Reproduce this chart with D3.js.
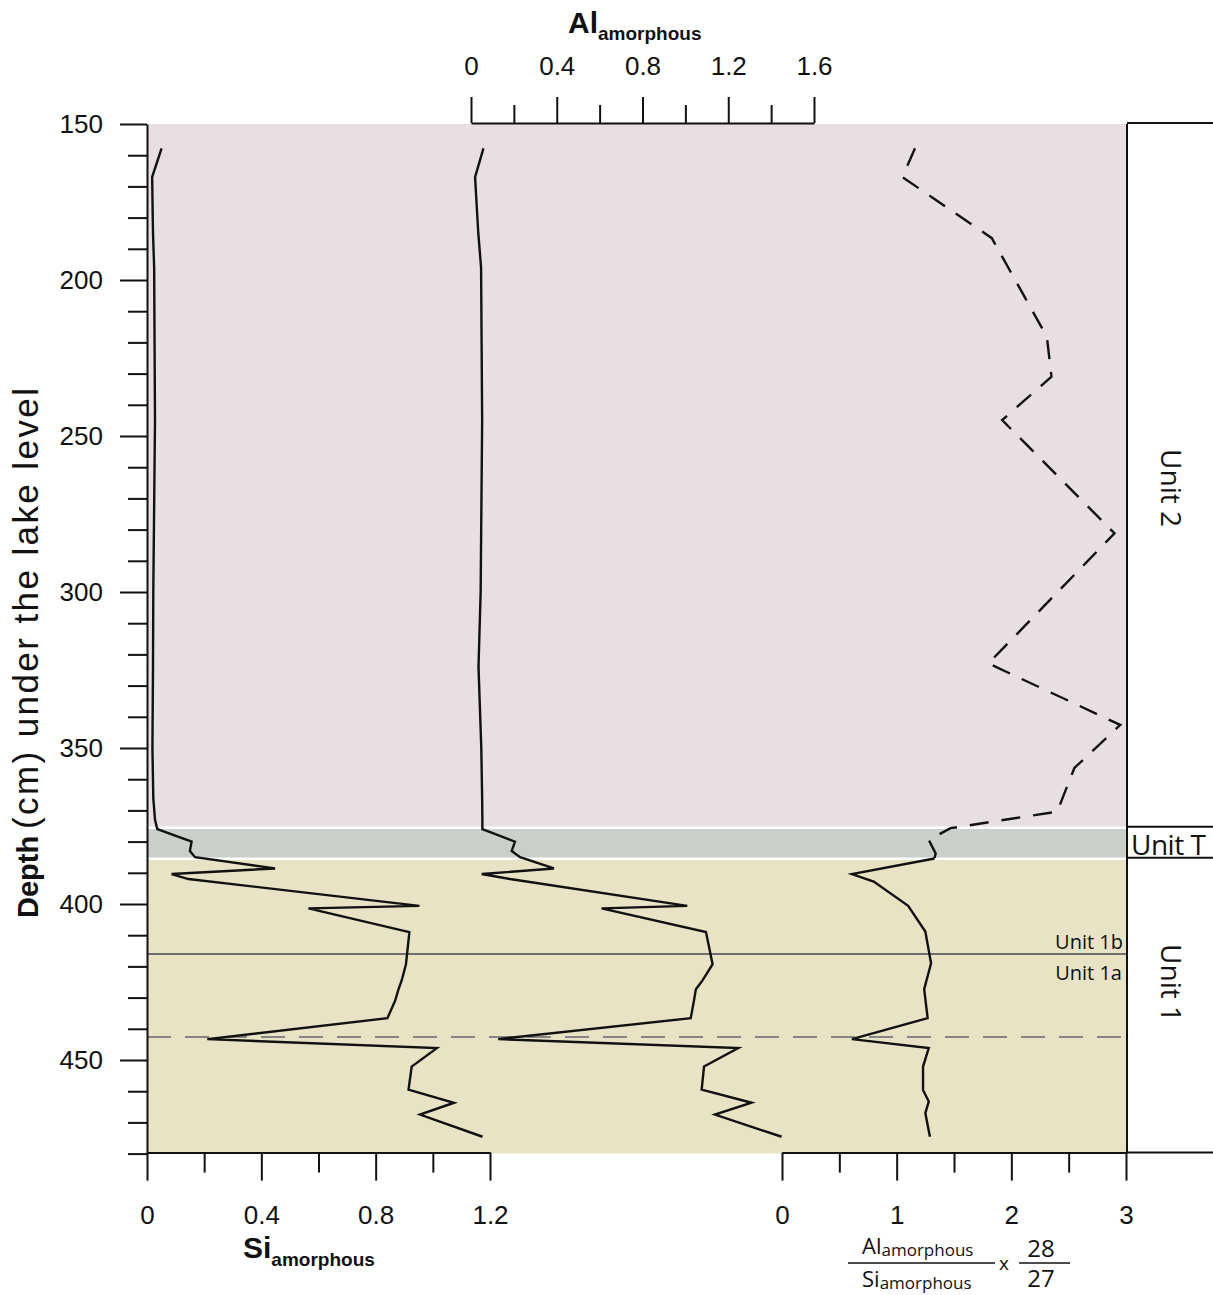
<!DOCTYPE html>
<html><head><meta charset="utf-8">
<script src="https://cdn.jsdelivr.net/npm/d3@7"></script>
<style>body{margin:0;background:#fff} svg{display:block}</style>
</head><body><svg id="c" width="1213" height="1295"></svg>
<script>
// ---- data ----
const depths    = [157.8, 167, 185, 196, 245, 300, 324, 350, 366, 373, 376, 380, 383, 385, 388.6, 390.4, 392, 400.6, 401.4, 409, 419.3, 424.5, 427.3, 431, 436.6, 443.3, 446.2, 452.1, 459.5, 463.7, 467.5, 474.6];
const siValues  = [0.051, 0.018, 0.021, 0.025, 0.028, 0.022, 0.021, 0.019, 0.022, 0.028, 0.036, 0.156, 0.150, 0.168, 0.448, 0.086, 0.145, 0.953, 0.565, 0.918, 0.906, 0.891, 0.880, 0.868, 0.841, 0.211, 1.014, 0.926, 0.915, 1.074, 0.955, 1.174];
const alValues  = [0.058, 0.019, 0.034, 0.047, 0.052, 0.045, 0.035, 0.048, 0.052, 0.053, 0.053, 0.205, 0.190, 0.229, 0.387, 0.050, 0.182, 1.009, 0.609, 1.096, 1.127, 1.080, 1.049, 1.040, 1.025, 0.127, 1.247, 1.087, 1.076, 1.309, 1.138, 1.449];
const ratioDepths = [157.8, 167, 186.6, 218.2, 231, 244.9, 281.2, 322.9, 342.6, 356.4, 370.4, 375.7, 379.5, 383.8, 385.4, 390.4, 392.8, 400.6, 408.8, 419, 427.3, 436.6, 443.3, 446.2, 452.1, 459.6, 463.3, 467, 474.6];
const ratioValues = [1.16, 1.05, 1.83, 2.31, 2.35, 1.92, 2.90, 1.80, 2.95, 2.55, 2.40, 1.47, 1.28, 1.34, 1.33, 0.61, 0.80, 1.10, 1.25, 1.30, 1.24, 1.27, 0.61, 1.28, 1.23, 1.23, 1.28, 1.25, 1.29];
const ratioDashedUntil = 385.4;

const depthTicks = [150,160,170,180,190,200,210,220,230,240,250,260,270,280,290,300,310,320,330,340,350,360,370,380,390,400,410,420,430,440,450,460,470,480];
const depthLabels = [150,200,250,300,350,400,450];
const siTicks = [0,0.2,0.4,0.6,0.8,1.0,1.2];
const siLabels = [0,0.4,0.8,1.2];
const alTicks = [0,0.2,0.4,0.6,0.8,1.0,1.2,1.4,1.6];
const alLabels = [0,0.4,0.8,1.2,1.6];
const ratioTicks = [0,0.5,1,1.5,2,2.5,3];
const ratioLabels = [0,1,2,3];

const unitNames   = ["Unit 2", "Unit T", "Unit 1"];
const unitTops    = [150, 375.6, 385.5];
const unitBottoms = [375.6, 385.5, 480];
const subunitNames = ["Unit 1b", "Unit 1a"];
const subunitBoundary = 416;
const dashedBoundary = 442.6;

// ---- drawing ----
const svg = d3.select("#c");
const y = d3.scaleLinear().domain([150,480]).range([124, 1153.6]);
const xSi = d3.scaleLinear().domain([0,1.2]).range([147,490]);
const xAl = d3.scaleLinear().domain([0,1.6]).range([471,814]);
const xR  = d3.scaleLinear().domain([0,3]).range([782,1126]);
const plotL = 147, plotR = 1127;

const bandColors = ["#e7dfe0", "#cacfca", "#e8e3c5"];
svg.append("g").selectAll("rect").data(unitNames).join("rect")
  .attr("x", plotL).attr("width", plotR - plotL)
  .attr("y", (d,i) => y(unitTops[i]))
  .attr("height", (d,i) => y(unitBottoms[i]) - y(unitTops[i]))
  .attr("fill", (d,i) => bandColors[i]);
svg.append("g").selectAll("line").data(unitTops.slice(1)).join("line")
  .attr("x1", plotL).attr("x2", plotR)
  .attr("y1", d => y(d)).attr("y2", d => y(d))
  .attr("stroke", "#fff").attr("stroke-width", 2.5);

svg.append("line").attr("x1", plotL).attr("x2", plotR)
  .attr("y1", y(subunitBoundary)).attr("y2", y(subunitBoundary))
  .attr("stroke", "#6e6e6e").attr("stroke-width", 2);
svg.append("line").attr("x1", plotL).attr("x2", 1121)
  .attr("y1", y(dashedBoundary)).attr("y2", y(dashedBoundary))
  .attr("stroke", "#858585").attr("stroke-width", 2).attr("stroke-dasharray", "24,14");

// curves
const siLine = d3.line().x(i => xSi(siValues[i])).y(i => y(depths[i]));
const alLine = d3.line().x(i => xAl(alValues[i])).y(i => y(depths[i]));
const idx = depths.map((d,i) => i);
svg.append("path").attr("d", siLine(idx)).attr("fill","none").attr("stroke","#111").attr("stroke-width",2.4);
svg.append("path").attr("d", alLine(idx)).attr("fill","none").attr("stroke","#111").attr("stroke-width",2.4);
const rLine = d3.line().x(i => xR(ratioValues[i])).y(i => y(ratioDepths[i]));
const rIdx = ratioDepths.map((d,i) => i);
svg.append("path").attr("d", rLine(rIdx.filter(i => ratioDepths[i] <= ratioDashedUntil)))
  .attr("fill","none").attr("stroke","#111").attr("stroke-width",2.4).attr("stroke-dasharray","19,13");
svg.append("path").attr("d", rLine(rIdx.filter(i => ratioDepths[i] >= ratioDashedUntil)))
  .attr("fill","none").attr("stroke","#111").attr("stroke-width",2.4);

// axes
const isIn = (arr, d) => arr.some(v => Math.abs(v - d) < 1e-9);
const fmt = d => d === 0 ? "0" : (Number.isInteger(d) ? String(d) : d.toFixed(1));
function style(g, fontSize) {
  g.select(".domain").attr("stroke","#111").attr("stroke-width",2);
  g.selectAll(".tick line").attr("stroke","#111").attr("stroke-width",2);
  g.selectAll(".tick text").attr("fill","#111").style("font-family","'Liberation Sans', Arial, sans-serif").style("font-size", fontSize + "px");
}
const gL = svg.append("g").attr("transform", `translate(${plotL},0)`)
  .call(d3.axisLeft(y).tickValues(depthTicks).tickSize(27).tickSizeOuter(0).tickPadding(17)
    .tickFormat(d => isIn(depthLabels, d) ? String(d) : ""));
gL.selectAll(".tick").filter(d => !isIn(depthLabels, d)).select("line").attr("x2", -19);
style(gL, 26);

const gT = svg.append("g").attr("transform", `translate(0,${y(150) - 1})`)
  .call(d3.axisTop(xAl).tickValues(alTicks).tickSize(26).tickSizeOuter(0).tickPadding(22)
    .tickFormat(d => isIn(alLabels, d) ? fmt(d) : ""));
gT.selectAll(".tick").filter(d => !isIn(alLabels, d)).select("line").attr("y2", -18);
style(gT, 26);

const gB = svg.append("g").attr("transform", `translate(0,${y(480) - 1})`)
  .call(d3.axisBottom(xSi).tickValues(siTicks).tickSize(28).tickSizeOuter(0).tickPadding(25)
    .tickFormat(d => isIn(siLabels, d) ? fmt(d) : ""));
gB.selectAll(".tick").filter(d => !isIn(siLabels, d)).select("line").attr("y2", 20);
style(gB, 26);

const gR = svg.append("g").attr("transform", `translate(0,${y(480) - 1})`)
  .call(d3.axisBottom(xR).tickValues(ratioTicks).tickSize(28).tickSizeOuter(0).tickPadding(25)
    .tickFormat(d => isIn(ratioLabels, d) ? fmt(d) : ""));
gR.selectAll(".tick").filter(d => !isIn(ratioLabels, d)).select("line").attr("y2", 20);
style(gR, 26);

// right frame and unit box
svg.append("line").attr("x1", plotR).attr("x2", plotR).attr("y1", y(150)).attr("y2", y(480))
  .attr("stroke","#111").attr("stroke-width",2);
const boxLines = [150, 375.6, 385.5, 480];
svg.append("g").selectAll("line").data(boxLines).join("line")
  .attr("x1", plotR).attr("x2", 1213)
  .attr("y1", d => y(d) - 1).attr("y2", d => y(d) - 1)
  .attr("stroke","#111").attr("stroke-width",2);

const uFont = "'Open Sans', 'Noto Sans', sans-serif";
const rotCenters = [{i:0, c:488}, {i:2, c:983}];
rotCenters.forEach(o => {
  svg.append("text").attr("transform", `translate(1161,${o.c}) rotate(90)`)
    .attr("text-anchor","middle").style("font-family", uFont).style("font-size","28px").attr("fill","#111")
    .text(unitNames[o.i]);
});
svg.append("text").attr("x", 1131).attr("y", y(385.5) - 4)
  .style("font-family", uFont).style("font-size","28px").attr("fill","#111").attr("letter-spacing","-0.5")
  .text(unitNames[1]);
svg.append("text").attr("x", 1123).attr("y", y(subunitBoundary) - 5).attr("text-anchor","end")
  .style("font-family", uFont).style("font-size","20px").attr("fill","#111").text(subunitNames[0]);
svg.append("text").attr("x", 1122).attr("y", y(subunitBoundary) + 26).attr("text-anchor","end")
  .style("font-family", uFont).style("font-size","20px").attr("fill","#111").text(subunitNames[1]);

// titles
const aFont = "'Liberation Sans', Arial, sans-serif";
const tAl = svg.append("text").attr("x", 568).attr("y", 33).style("font-family", aFont).style("font-weight","bold").attr("fill","#111");
tAl.append("tspan").style("font-size","30px").text("Al");
tAl.append("tspan").style("font-size","19px").attr("dy", 7).text("amorphous");

const tSi = svg.append("text").attr("x", 243).attr("y", 1258).style("font-family", aFont).style("font-weight","bold").attr("fill","#111");
tSi.append("tspan").style("font-size","30px").text("Si");
tSi.append("tspan").style("font-size","19px").attr("dy", 8).text("amorphous");

svg.append("text").attr("transform","translate(38,918) rotate(-90)")
  .style("font-family", aFont).style("font-weight","bold").style("font-size","29px").attr("fill","#111")
  .text("Depth");
svg.append("text").attr("transform","translate(38,829) rotate(-90)")
  .style("font-family", aFont).style("font-size","35px").attr("fill","#111")
  .attr("textLength", 441).attr("lengthAdjust","spacing")
  .text("(cm) under the lake level");

// ratio title (fraction)
const fr = svg.append("g").style("font-family", uFont).attr("fill","#111");
const num = fr.append("text").attr("x", 862).attr("y", 1254);
num.append("tspan").style("font-size","22px").text("Al");
num.append("tspan").style("font-size","17px").attr("dy", 2).text("amorphous");
const den = fr.append("text").attr("x", 862).attr("y", 1287);
den.append("tspan").style("font-size","22px").text("Si");
den.append("tspan").style("font-size","17px").attr("dy", 2).text("amorphous");
fr.append("line").attr("x1", 848).attr("x2", 995).attr("y1", 1263).attr("y2", 1263).attr("stroke","#111").attr("stroke-width",1.5);
fr.append("text").attr("x", 1004).attr("y", 1270).attr("text-anchor","middle").style("font-size","19px").text("x");
fr.append("text").attr("x", 1041).attr("y", 1257).attr("text-anchor","middle").style("font-size","24px").text("28");
fr.append("text").attr("x", 1041).attr("y", 1287).attr("text-anchor","middle").style("font-size","24px").text("27");
fr.append("line").attr("x1", 1019).attr("x2", 1070).attr("y1", 1263).attr("y2", 1263).attr("stroke","#111").attr("stroke-width",1.5);
</script></body></html>
